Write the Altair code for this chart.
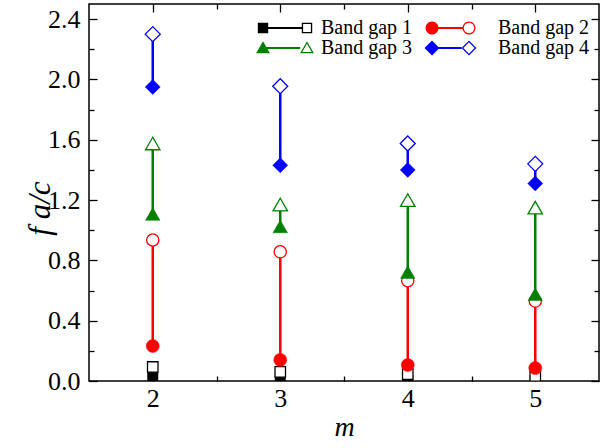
import math
import altair as alt
import pandas as pd

# ---------------- data ----------------
m_values = [2, 3, 4, 5]
bands = ["Band gap 1", "Band gap 2", "Band gap 3", "Band gap 4"]
colors = ["#000000", "#ff0000", "#008000", "#0000ff"]

bg1_lower = [0.027, 0.005, 0.005, 0.003]
bg1_upper = [0.093, 0.060, 0.046, 0.033]
bg2_lower = [0.232, 0.140, 0.106, 0.086]
bg2_upper = [0.935, 0.857, 0.665, 0.530]
bg3_lower = [1.107, 1.025, 0.722, 0.575]
bg3_upper = [1.575, 1.170, 1.200, 1.150]
bg4_lower = [1.950, 1.430, 1.400, 1.310]
bg4_upper = [2.300, 1.955, 1.575, 1.440]

x_tick_values = [2, 3, 4, 5]
x_all_ticks = [2, 2.5, 3, 3.5, 4, 4.5, 5]
y_tick_values = [0.0, 0.4, 0.8, 1.2, 1.6, 2.0, 2.4]
y_all_ticks = [0.0, 0.2, 0.4, 0.6, 0.8, 1.0, 1.2, 1.4, 1.6, 1.8, 2.0, 2.2, 2.4]

lowers = [bg1_lower, bg2_lower, bg3_lower, bg4_lower]
uppers = [bg1_upper, bg2_upper, bg3_upper, bg4_upper]

rows = []
for b, lo, hi in zip(bands, lowers, uppers):
    for m, l, h in zip(m_values, lo, hi):
        rows.append({"m": m, "lower": l, "upper": h, "band": b})
df = pd.DataFrame(rows)

# ---------------- styling ----------------
FONT = "Liberation Serif"
W, H = 510, 377
shapes = ["square", "circle", "triangle-up", "diamond"]
filled_sizes = [110, 169, 210, 225]
open_sizes = [110, 150, 210, 225]

xscale = alt.Scale(domain=[1.5, 5.5], nice=False, zero=False)
yscale = alt.Scale(domain=[0, 2.5], nice=False, zero=False)


# ----- legend symbol paths: filled marker - line - hollow marker -----
SYM = 18.0          # nominal legend symbol size (px)
HALF = SYM / 2.0


def verts(kind, cx, r):
    if kind == "square":
        return [(cx - r, -r), (cx + r, -r), (cx + r, r), (cx - r, r)]
    if kind == "circle":
        n = 32
        return [(cx + r * math.cos(2 * math.pi * k / n), r * math.sin(2 * math.pi * k / n)) for k in range(n)]
    if kind == "triangle-up":
        pts = []
        for ang in (-90, 30, 150):
            a = math.radians(ang)
            pts.append((cx + r * math.cos(a), 0.15 * r + r * math.sin(a)))
        return pts
    if kind == "diamond":
        return [(cx, -r), (cx + r, 0), (cx, r), (cx - r, 0)]


def inradius_factor(kind):
    return {"square": 1.0, "circle": 1.0, "triangle-up": 0.5, "diamond": 1 / math.sqrt(2)}[kind]


def to_path(pts, reverse=False):
    if reverse:
        pts = pts[::-1]
    s = "M%.4f,%.4f" % (pts[0][0] / HALF, pts[0][1] / HALF)
    for p in pts[1:]:
        s += "L%.4f,%.4f" % (p[0] / HALF, p[1] / HALF)
    return s + "Z"


def legend_path(kind, r, left, right):
    sw = 1.3
    outer = verts(kind, right, r)
    cyc = 0.15 * r if kind == "triangle-up" else 0.0
    k = (inradius_factor(kind) * r - sw) / (inradius_factor(kind) * r)
    inner = [(right + (px - right) * k, cyc + (py - cyc) * k) for px, py in outer]
    line_end = right - r * (0.85 if kind == "triangle-up" else 1.0)
    line = [(left, -1.1), (line_end, -1.1), (line_end, 1.1), (left, 1.1)]
    return (to_path(verts(kind, left, r)) + to_path(line) + to_path(outer) + to_path(inner, reverse=True))


legend_radii = [5.2, 6.5, 8.0, 7.5]
legend_ends = [(-22.0, 22.0), (-30.0, 7.0), (-22.0, 22.0), (-30.0, 7.0)]
legend_paths = [legend_path(k, r, a, b) for k, r, (a, b) in zip(shapes, legend_radii, legend_ends)]

# ---------------- layers ----------------
layers = []
for i, (b, c, shp, fs, os_) in enumerate(zip(bands, colors, shapes, filled_sizes, open_sizes)):
    clip = i == 0
    base = alt.Chart(df).transform_filter(alt.datum.band == b)
    rule = base.mark_rule(color=c, strokeWidth=2.5, clip=clip).encode(
        x=alt.X("m:Q", scale=xscale, axis=None),
        y=alt.Y("lower:Q", scale=yscale, axis=None),
        y2="upper:Q",
    )
    filled = base.mark_point(shape=shp, fill=c, stroke=c, strokeWidth=0.5, size=fs,
                             opacity=1, fillOpacity=1, clip=clip).encode(
        x=alt.X("m:Q", scale=xscale, axis=None),
        y=alt.Y("lower:Q", scale=yscale, axis=None),
    )
    hollow = base.mark_point(shape=shp, fill="white", stroke=c, strokeWidth=1.3, size=os_,
                             opacity=1, fillOpacity=1, clip=clip).encode(
        x=alt.X("m:Q", scale=xscale, axis=None),
        y=alt.Y("upper:Q", scale=yscale, axis=None),
    )
    layers += [rule, filled, hollow]

tick_size_x = {"condition": {"test": "datum.value % 1 === 0", "value": 8}, "value": 5}
tick_size_y = {"condition": {"test": "round(datum.value * 5) % 2 === 0", "value": 8}, "value": 5}

common_tick = dict(labels=False, domain=False, grid=False, ticks=True, tickColor="black",
                   tickWidth=1.3, title=None)

axis_main = alt.Chart(df).mark_point(opacity=0).encode(
    x=alt.X("m:Q", scale=xscale, axis=alt.Axis(
        values=x_tick_values, format="d", ticks=False, domain=False, grid=False,
        labelFont=FONT, labelFontSize=26, labelColor="black", labelPadding=4,
        title="m", titleFont=FONT, titleFontStyle="italic", titleFontWeight="normal",
        titleFontSize=28, titleColor="black", titlePadding=2)),
    y=alt.Y("lower:Q", scale=yscale, axis=alt.Axis(
        values=y_tick_values, format=".1f", ticks=False, domain=False, grid=False,
        labelFont=FONT, labelFontSize=26, labelColor="black", labelPadding=9,
        title="f a/c", titleFont=FONT, titleFontStyle="italic", titleFontWeight="normal",
        titleFontSize=31, titleColor="black", titleAngle=270, titleAlign="center",
        titleBaseline="middle", titleX=-49, titleY=204)),
)

axis_in_a = alt.Chart(df).mark_point(opacity=0).encode(
    x=alt.X("m:Q", scale=xscale, axis=alt.Axis(orient="top", offset=-H, values=x_all_ticks,
                                                tickSize=tick_size_x, **common_tick)),
    y=alt.Y("lower:Q", scale=yscale, axis=alt.Axis(orient="right", offset=-W, values=y_all_ticks,
                                                    tickSize=tick_size_y, **common_tick)),
)
axis_in_b = alt.Chart(df).mark_point(opacity=0).encode(
    x=alt.X("m:Q", scale=xscale, axis=alt.Axis(orient="bottom", offset=-H, values=x_all_ticks,
                                                tickSize=tick_size_x, **common_tick)),
    y=alt.Y("lower:Q", scale=yscale, axis=alt.Axis(orient="left", offset=-W, values=y_all_ticks,
                                                    tickSize=tick_size_y, **common_tick)),
)

legend_layer = alt.Chart(df).mark_point(filled=True, opacity=0).encode(
    x=alt.X("m:Q", scale=xscale, axis=None),
    y=alt.Y("lower:Q", scale=yscale, axis=None),
    color=alt.Color("band:N", scale=alt.Scale(domain=bands, range=colors), title=None),
    shape=alt.Shape("band:N", scale=alt.Scale(domain=bands, range=legend_paths), title=None),
)

chart = alt.layer(axis_main, axis_in_a, axis_in_b, *layers, legend_layer).resolve_axis(
    x="independent", y="independent"
).properties(
    width=W, height=H,
    autosize=alt.AutoSizeParams(type="none"),
    padding={"left": 89, "top": 4, "right": 1, "bottom": 67},
    background="white",
).configure_view(
    stroke="black", strokeWidth=1.5
).configure_legend(
    orient="none", legendX=165, legendY=14, columns=2, direction="horizontal",
    columnPadding=11, rowPadding=0,
    labelFont=FONT, labelFontSize=20, labelColor="black",
    symbolSize=SYM * SYM, symbolOffset=21, labelOffset=26,
    symbolStrokeWidth=0, symbolOpacity=1, padding=0, labelLimit=300,
)

chart.save("out.html", embed_options={"renderer": "svg", "actions": False})
